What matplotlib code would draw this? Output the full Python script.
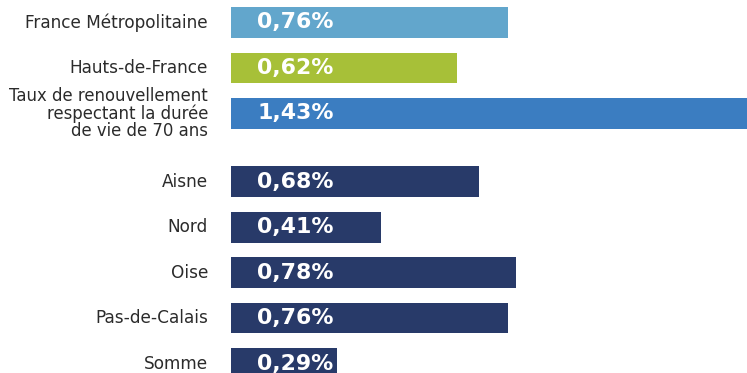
#!/usr/bin/env python3
import matplotlib
matplotlib.use('Agg')
import matplotlib.pyplot as plt

labels = ['France Métropolitaine', 'Hauts-de-France',
          'Taux de renouvellement\nrespectant la durée\nde vie de 70 ans',
          'Aisne', 'Nord', 'Oise', 'Pas-de-Calais', 'Somme']
values = [0.76, 0.62, 1.43, 0.68, 0.41, 0.78, 0.76, 0.29]
value_labels = ['0,76%', '0,62%', '1,43%', '0,68%', '0,41%', '0,78%', '0,76%', '0,29%']
rows = [0, 1, 2, 3.5, 4.5, 5.5, 6.5, 7.5]
colors = ['#62A6CC', '#A7C038', '#3B7DC1', '#283A69', '#283A69',
          '#283A69', '#283A69', '#283A69']

fig = plt.figure(figsize=(7.47, 3.73), dpi=100)
ax = fig.add_axes([231/747, 0, 516/747, 1])

ax.barh(rows, values, height=0.68, color=colors)
ax.set_xlim(0, 516/365)
ax.set_ylim(7.5 + 9.5/45.47, -22.5/45.47)
ax.axis('off')

for y, lab, vl in zip(rows, labels, value_labels):
    # multi-line label is slightly narrower in the original
    fs = 11.9 if '\n' in lab else 12.2
    ax.annotate(lab, (0, y), xytext=(-16.5, 0), textcoords='offset points',
                ha='right', va='center', fontsize=fs, color='#2b2b2b',
                family='DejaVu Sans', linespacing=0.92)
    ax.annotate(vl, (0, y), xytext=(19, 0), textcoords='offset points',
                ha='left', va='center', fontsize=15.8, color='white',
                family='DejaVu Sans', weight='bold')

fig.savefig('out.png', dpi=100)
